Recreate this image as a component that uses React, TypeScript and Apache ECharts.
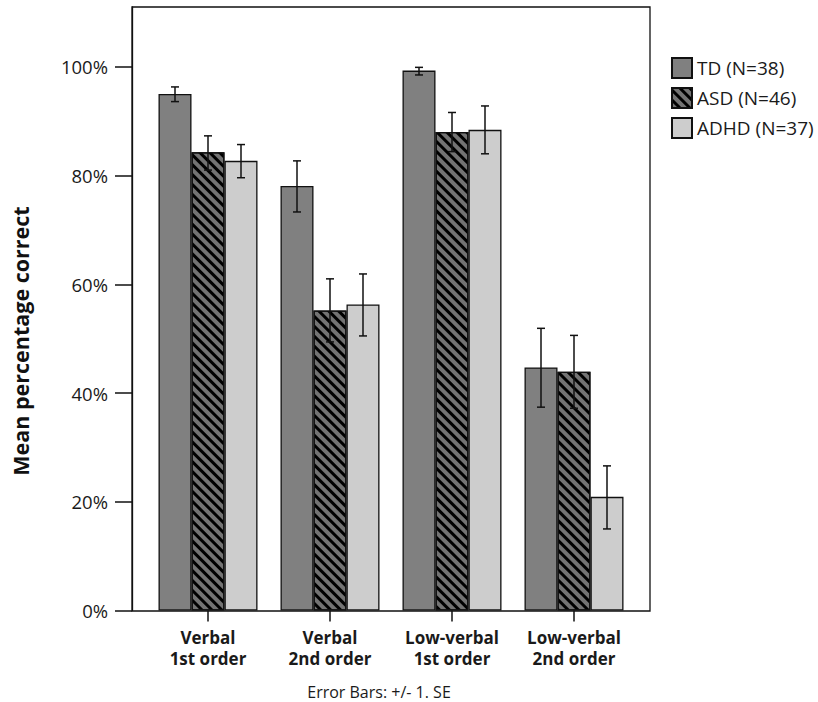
import React, { useEffect, useRef } from "react";
import * as echarts from "echarts";

const categories = ["Verbal\n1st order", "Verbal\n2nd order", "Low-verbal\n1st order", "Low-verbal\n2nd order"];
const groupNames = ["TD (N=38)", "ASD (N=46)", "ADHD (N=37)"];

const tdMean = [95.0, 78.1, 99.3, 44.7];
const tdLow = [93.6, 73.3, 98.5, 37.4];
const tdHigh = [96.3, 82.7, 99.9, 51.9];

const asdMean = [84.3, 55.2, 88.0, 43.9];
const asdLow = [81.0, 49.4, 84.4, 37.2];
const asdHigh = [87.3, 61.0, 91.6, 50.6];

const adhdMean = [82.7, 56.3, 88.4, 20.9];
const adhdLow = [79.6, 50.5, 84.0, 15.0];
const adhdHigh = [85.7, 61.9, 92.8, 26.6];

const yTicks = [0, 20, 40, 60, 80, 100];

const FONT = "Open Sans";
const BAR_W = 33;

export default function App() {
  const ref = useRef<HTMLDivElement>(null);
  useEffect(() => {
    if (!ref.current) return;
    const chart = echarts.init(ref.current, undefined, { renderer: "svg" });

    const means = [tdMean, asdMean, adhdMean];
    const lows = [tdLow, asdLow, adhdLow];
    const highs = [tdHigh, asdHigh, adhdHigh];
    const fills = ["#808080", "#737373", "#cdcdcd"];

    const barSeries = means.map((m, i) => ({
      type: "bar",
      name: groupNames[i],
      data: m,
      barWidth: BAR_W,
      barGap: "0%",
      itemStyle: {
        color: fills[i],
        borderColor: "#111",
        borderWidth: 1.3,
        ...(i === 1
          ? {
              decal: {
                symbol: "rect",
                symbolSize: 1,
                color: "#000",
                dashArrayX: [1, 0],
                dashArrayY: [2.6, 4],
                rotation: Math.PI / 4,
              },
            }
          : {}),
      },
      z: 2,
    }));

    const errSeries = means.map((_m, i) => ({
      type: "custom",
      name: "err" + i,
      data: categories.map((_c, k) => [k, lows[i][k], highs[i][k]]),
      encode: { x: 0, y: [1, 2] },
      z: 5,
      silent: true,
      renderItem: (_p: any, api: any) => {
        const k = api.value(0);
        const lo = api.coord([k, api.value(1)]);
        const hi = api.coord([k, api.value(2)]);
        const x = lo[0] + (i - 1) * BAR_W;
        const style = { stroke: "#111", lineWidth: 1.5 };
        return {
          type: "group",
          children: [
            { type: "line", shape: { x1: x, y1: lo[1], x2: x, y2: hi[1] }, style },
            { type: "line", shape: { x1: x - 4, y1: lo[1], x2: x + 4, y2: lo[1] }, style },
            { type: "line", shape: { x1: x - 4, y1: hi[1], x2: x + 4, y2: hi[1] }, style },
          ],
        };
      },
    }));

    chart.setOption({
      animation: false,
      backgroundColor: "#fff",
      textStyle: { fontFamily: FONT },
      grid: { left: 147, right: 183, top: 7, bottom: 91.5, containLabel: false },
      legend: {
        data: groupNames,
        orient: "vertical",
        left: 666,
        top: 52,
        itemWidth: 20,
        itemHeight: 20,
        itemGap: 8,
        icon: "rect",
        textStyle: { fontFamily: FONT, fontSize: 19, color: "#1a1a1a", padding: [0, 0, 0, 0] },
      },
      xAxis: {
        type: "category",
        data: categories,
        axisLine: { show: false },
        axisTick: { show: true, alignWithLabel: true, interval: 0, length: 11, lineStyle: { color: "#111", width: 1.5 } },
        axisLabel: {
          interval: 0,
          hideOverlap: false,
          fontFamily: FONT,
          fontSize: 17,
          fontWeight: "bold",
          color: "#1a1a1a",
          lineHeight: 21,
          margin: 16,
        },
      },
      yAxis: {
        type: "value",
        min: 0,
        max: 111,
        interval: 20,
        offset: 15,
        splitLine: { show: false },
        axisLine: { show: true, lineStyle: { color: "#111", width: 1.3 } },
        axisTick: { show: true, length: 17, customValues: yTicks, lineStyle: { color: "#111", width: 1.5 } },
        axisLabel: {
          customValues: yTicks,
          formatter: "{value}%",
          fontFamily: FONT,
          fontSize: 18.5,
          color: "#1a1a1a",
          margin: 24,
        },
      },
      graphic: [
        {
          type: "rect",
          shape: { x: 132, y: 7, width: 518, height: 604 },
          style: { fill: "none", stroke: "#111", lineWidth: 1.3 },
          z: 10,
          silent: true,
        },
        {
          type: "text",
          x: 20,
          y: 341,
          rotation: Math.PI / 2,
          style: {
            text: "Mean percentage correct",
            fontFamily: FONT,
            fontSize: 21.5,
            fontWeight: "bold",
            fill: "#111",
            align: "center",
            verticalAlign: "middle",
          },
        },
        {
          type: "text",
          x: 379,
          y: 692,
          style: {
            text: "Error Bars: +/- 1. SE",
            fontFamily: FONT,
            fontSize: 16,
            fill: "#1a1a1a",
            align: "center",
            verticalAlign: "middle",
          },
        },
      ],
      series: [...barSeries, ...errSeries],
    });
    return () => chart.dispose();
  }, []);
  return <div ref={ref} style={{ position: "fixed", left: 0, top: 0, width: 818, height: 702 }} />;
}
